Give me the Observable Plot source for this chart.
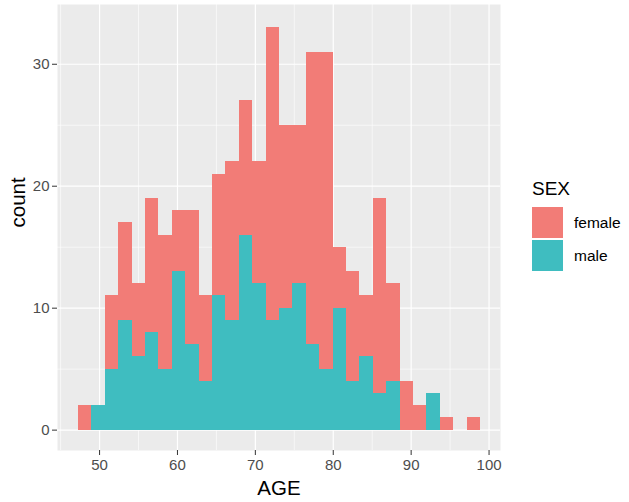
<!DOCTYPE html>
<html>
<head>
<meta charset="utf-8">
<script src="https://cdn.jsdelivr.net/npm/d3@7"></script>
<script src="https://cdn.jsdelivr.net/npm/@observablehq/plot@0.6"></script>
<style>
  html, body { margin: 0; padding: 0; background: #fff; }
  #wrap { position: relative; width: 629px; height: 502px; font-family: "Liberation Sans", Arial, sans-serif; }
  #legend { position: absolute; left: 532px; top: 178px; }
  #legend .title { font-size: 19px; color: #000; margin-bottom: 6px; }
  #legend .item { display: flex; align-items: center; height: 33px; }
  #legend .sw { width: 31px; height: 31px; margin-right: 11px; }
  #legend .lab { font-size: 15.5px; color: #000; }
</style>
</head>
<body>
<div id="wrap"></div>
<script>
// ---- data ----
const sexes = ["female", "male"];
const sexColors = ["#F27C77", "#3FBDC0"];
const binStart = 47.3;      // lower edge of first AGE bin
const binWidth = 1.72;      // ggplot default 30 bins
const femaleCounts = [2, 0, 6, 8, 6, 11, 11, 5, 11, 7, 10, 13, 11, 10, 24, 15, 13, 24, 26, 5, 9, 5, 16, 8, 4, 2, 0, 1, 0, 1];
const maleCounts   = [0, 2, 5, 9, 6, 8, 5, 13, 7, 4, 11, 9, 16, 12, 9, 10, 12, 7, 5, 10, 4, 6, 3, 4, 0, 0, 3, 0, 0, 0];
const xTicks = [50, 60, 70, 80, 90, 100];
const xMinor = [45, 55, 65, 75, 85, 95];
const yTicks = [0, 10, 20, 30];
const yMinor = [5, 15, 25];

// ---- stacked table (male at bottom, female on top, like ggplot) ----
const rows = [];
maleCounts.forEach((m, i) => {
  const x1 = binStart + i * binWidth, x2 = x1 + binWidth;
  if (m > 0) rows.push({sex: "male", x1, x2, y1: 0, y2: m});
});
femaleCounts.forEach((f, i) => {
  const x1 = binStart + i * binWidth, x2 = x1 + binWidth;
  const m = maleCounts[i];
  if (f > 0) rows.push({sex: "female", x1, x2, y1: m, y2: m + f});
});

const chart = Plot.plot({
  width: 629,
  height: 502,
  marginLeft: 57,
  marginRight: 129,
  marginTop: 4,
  marginBottom: 52,
  style: {fontFamily: "'Liberation Sans', Arial, sans-serif", background: "#fff"},
  x: {domain: [44.6, 101.47]},
  y: {domain: [-1.67, 34.9]},
  color: {domain: sexes, range: sexColors},
  marks: [
    Plot.frame({fill: "#EBEBEB", stroke: null}),
    Plot.gridX(xMinor, {stroke: "#fff", strokeOpacity: 1, strokeWidth: 0.6}),
    Plot.gridY(yMinor, {stroke: "#fff", strokeOpacity: 1, strokeWidth: 0.6}),
    Plot.gridX(xTicks, {stroke: "#fff", strokeOpacity: 1, strokeWidth: 1.2}),
    Plot.gridY(yTicks, {stroke: "#fff", strokeOpacity: 1, strokeWidth: 1.2}),
    Plot.rect(rows, {x1: "x1", x2: "x2", y1: "y1", y2: "y2", fill: "sex", inset: 0, shapeRendering: "crispEdges"}),
    Plot.axisX(xTicks, {tickSize: 5, tickPadding: 4, stroke: "#333", fill: "#4D4D4D", fontSize: 15, label: null}),
    Plot.axisY(yTicks, {tickSize: 5, tickPadding: 3, stroke: "#333", fill: "#4D4D4D", fontSize: 15, label: null}),
    Plot.text(["AGE"], {frameAnchor: "bottom", dy: 44, fontSize: 20.5, fill: "#000", lineAnchor: "bottom"}),
    Plot.text(["count"], {frameAnchor: "left", rotate: -90, dx: -39, fontSize: 20.5, fill: "#000"})
  ]
});
const wrap = document.getElementById("wrap");
wrap.appendChild(chart);

const legend = document.createElement("div");
legend.id = "legend";
legend.innerHTML = `<div class="title">SEX</div>` + sexes.map((s, i) =>
  `<div class="item"><div class="sw" style="background:${sexColors[i]}"></div><span class="lab">${s}</span></div>`).join("");
wrap.appendChild(legend);
</script>
</body>
</html>
